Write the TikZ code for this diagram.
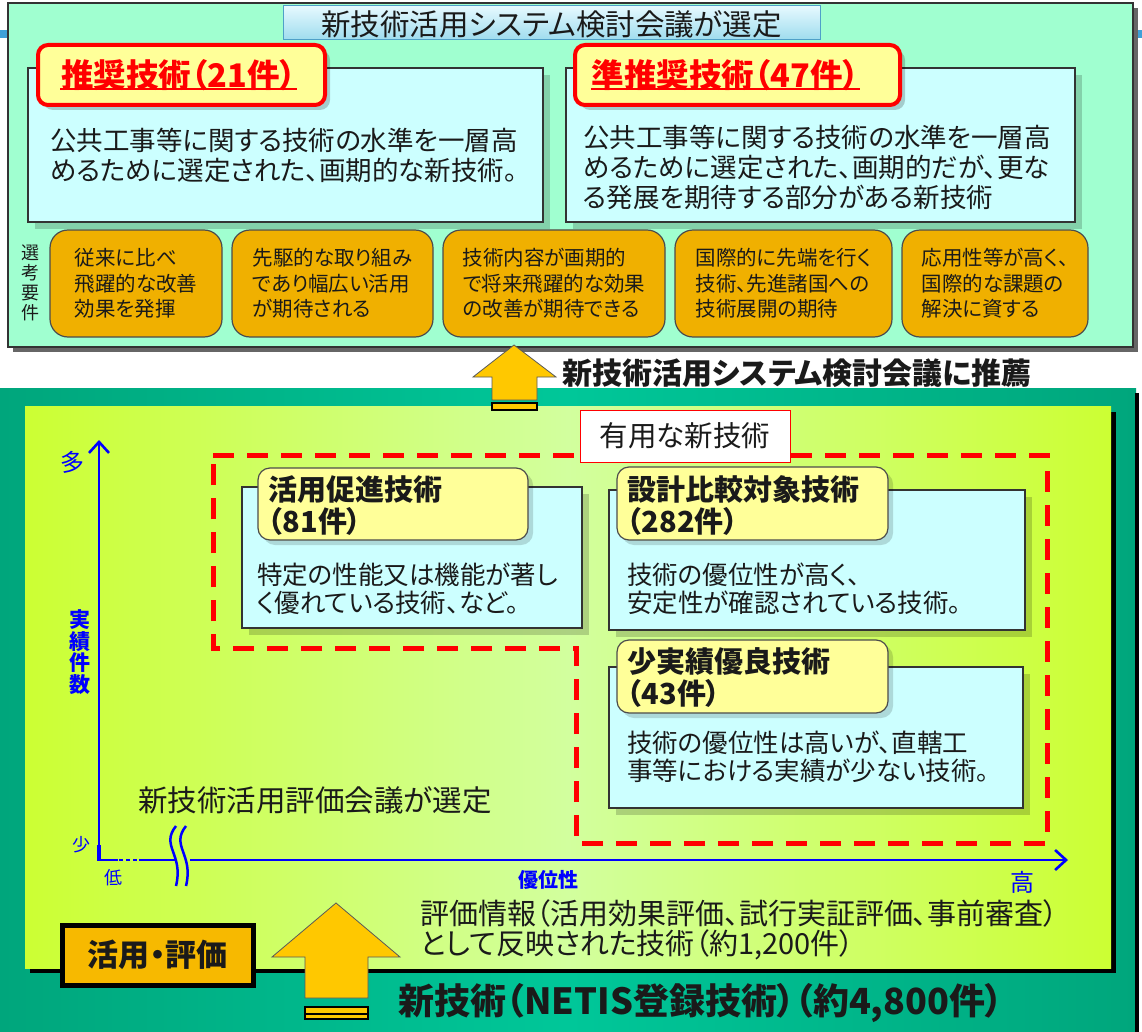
\documentclass[tikz,border=0pt]{standalone}
\usepackage{fontspec}
\setmainfont{Noto Sans CJK JP}[RawFeature=+palt]
\usetikzlibrary{shadows,arrows.meta}
\definecolor{mint}{HTML}{A0FFD0}
\definecolor{lcyan}{HTML}{CCFFFF}
\definecolor{lyellow}{HTML}{FFFF99}
\definecolor{orng}{HTML}{F0B000}
\definecolor{orngb}{HTML}{F7B900}
\definecolor{arrowfill}{HTML}{FFC800}
\definecolor{tealA}{HTML}{00A67C}
\definecolor{tealB}{HTML}{00C799}
\definecolor{ygreen}{HTML}{CCFF33}
\definecolor{pale}{HTML}{D2FF9E}
\definecolor{ttlA}{HTML}{E6F9FF}
\definecolor{ttlB}{HTML}{9EDCEE}
\definecolor{ttlborder}{HTML}{4FA0C8}
\definecolor{axblue}{HTML}{0000FF}
\definecolor{ink}{HTML}{1A1A1A}
\definecolor{slideblue}{HTML}{3FA0D8}
\newcommand\fsz[2]{\fontsize{#1}{#2}\selectfont}
\newcommand\rectnode[6]{\node[#6, inner sep=0pt, outer sep=0pt, minimum width={(#4-#2)*1pt}, minimum height={(#5-#3)*1pt}] (#1) at ({(#2+#4)/2},{(#3+#5)/2}) {};}
\tikzset{
  cyanbox/.style={fill=lcyan, draw=black!80, line width=1.2pt, drop shadow={shadow xshift=7pt, shadow yshift=-7pt, fill=black, opacity=0.18}},
  redlab/.style={fill=lyellow, draw=red, line width=4pt, rounded corners=10pt, drop shadow={shadow xshift=5pt, shadow yshift=-5pt, fill=black, opacity=0.2}},
  ylab/.style={fill=lyellow, draw=black!70, line width=1.2pt, rounded corners=12pt, drop shadow={shadow xshift=5pt, shadow yshift=-5pt, fill=black, opacity=0.15}},
  obox/.style={fill=orng, draw=black!70, line width=1.2pt, rounded corners=18pt},
  bodytxt/.style={font=\fsz{26.5}{30}, text=ink, align=left, inner sep=0pt},
  bodytxtb/.style={font=\fsz{25.5}{28.5}, text=ink, align=left, inner sep=0pt},
  otxt/.style={font=\fsz{20.5}{25.5}, text=ink, align=left, inner sep=0pt},
  labtxt/.style={font=\fsz{29}{32}\bfseries, text=ink, align=left, inner sep=0pt},
  redtxt/.style={font=\fsz{32.5}{36}\bfseries, text=red, inner sep=1pt},
  axisline/.style={draw=axblue, line width=2.6pt},
  axlab/.style={text=axblue, inner sep=0pt},
  arrowshape/.style={fill=arrowfill, draw=black!65, line width=0.8pt},
}
\begin{document}
\begin{tikzpicture}[x=1pt,y=-1pt]
\useasboundingbox (0,0) rectangle (1142,1032);
\fill[white] (0,0) rectangle (1142,1032);
% slide remnants
\fill[slideblue] (0,30) rectangle (7,38);
\fill[slideblue] (1136,30) rectangle (1142,38);
% ===== top panel =====
\rectnode{top}{8}{3}{1133}{347}{fill=mint, draw=black!80, line width=1.5pt, drop shadow={shadow xshift=5pt, shadow yshift=-5pt, fill=black!60, opacity=1}}
\rectnode{ttl}{283}{6}{820}{40}{draw=ttlborder, line width=1pt, top color=ttlA, bottom color=ttlB}
\node[font=\fsz{29.5}{31}, text=ink, inner sep=0pt] (ttltxt) at ([yshift=-1pt]ttl.center) {新技術活用システム検討会議が選定};
% description boxes
\rectnode{descA}{28}{68}{543}{222}{cyanbox}
\rectnode{descB}{566}{68}{1075}{222}{cyanbox}
\rectnode{labA}{38}{45}{325}{105}{redlab}
\rectnode{labB}{575}{45}{900}{105}{redlab}
\node[redtxt] (labAt) at ([xshift=-3pt]labA.center) {推奨技術（21件）};
\node[redtxt] (labBt) at ([xshift=-12pt]labB.center) {準推奨技術（47件）};
\draw[red, line width=2pt] ([yshift=3pt]labAt.south west) -- ([yshift=3pt]labAt.south east);
\draw[red, line width=2pt] ([yshift=3pt]labBt.south west) -- ([yshift=3pt]labBt.south east);
\node[bodytxt, anchor=west] (dA) at (50,155) {公共工事等に関する技術の水準を一層高\\めるために選定された、画期的な新技術。};
\node[bodytxt, anchor=west] (dB) at (583,167) {公共工事等に関する技術の水準を一層高\\めるために選定された、画期的だが、更な\\る発展を期待する部分がある新技術};
% selection requirements
\node[font=\fsz{18}{20}, text=ink, align=center, inner sep=0pt] (sk) at (30,283) {選\\考\\要\\件};
\rectnode{c1}{50}{230}{222}{337}{obox}
\rectnode{c2}{232}{230}{433}{337}{obox}
\rectnode{c3}{443}{230}{665}{337}{obox}
\rectnode{c4}{675}{230}{892}{337}{obox}
\rectnode{c5}{902}{230}{1088}{337}{obox}
\node[otxt] (c1t) at (c1) {従来に比べ\\飛躍的な改善\\効果を発揮};
\node[otxt] (c2t) at (c2) {先駆的な取り組み\\であり幅広い活用\\が期待される};
\node[otxt] (c3t) at (c3) {技術内容が画期的\\で将来飛躍的な効果\\の改善が期待できる};
\node[otxt] (c4t) at (c4) {国際的に先端を行く\\技術、先進諸国への\\技術展開の期待};
\node[otxt] (c5t) at (c5) {応用性等が高く、\\国際的な課題の\\解決に資する};
% ===== bottom panel =====
\shade[left color=tealA, right color=tealA, middle color=tealB] (0,388) rectangle (1136,1032);
\fill[black] (1135,393) rectangle (1139,1032);
\fill[black] (30,412) rectangle (1116,973);
\shade[left color=ygreen, right color=ygreen, middle color=pale] (25,406) rectangle (1111,968);
% dashed region
\draw[red, line width=5pt, dash pattern=on 21pt off 13pt] (213,455) -- (1047,455) -- (1047,843) -- (576,843) -- (576,648) -- (213,648) -- cycle;
\rectnode{useful}{580}{410}{790}{462}{fill=white, draw=red, line width=1pt}
\node[font=\fsz{28.5}{30}, text=ink, inner sep=0pt] (usefult) at (useful) {有用な新技術};
% bottom boxes
\rectnode{bA}{242}{487}{582}{628}{cyanbox}
\rectnode{bB}{609}{490}{1025}{630}{cyanbox}
\rectnode{bC}{609}{667}{1023}{808}{cyanbox}
\rectnode{labP}{258}{468}{528}{540}{ylab}
\rectnode{labQ}{617}{467}{888}{540}{ylab}
\rectnode{labR}{617}{640}{888}{713}{ylab}
\node[labtxt, anchor=west] (labPt) at (268,506) {活用促進技術\\（81件）};
\node[labtxt, anchor=west] (labQt) at (627,506) {設計比較対象技術\\（282件）};
\node[labtxt, anchor=west] (labRt) at (627,678) {少実績優良技術\\（43件）};
\node[bodytxtb, anchor=west] (bAt) at (257,589) {特定の性能又は機能が著し\\く優れている技術、など。};
\node[bodytxtb, anchor=west] (bBt) at (627,589) {技術の優位性が高く、\\安定性が確認されている技術。};
\node[bodytxtb, anchor=west] (bCt) at (627,757) {技術の優位性は高いが、直轄工\\事等における実績が少ない技術。};
% axes
\coordinate (orig) at (99,860);
\coordinate (ytop) at (99,440);
\coordinate (xend) at (1068,860);
\draw[axisline, -{Straight Barb[length=11pt,width=20pt]}] (orig) -- (ytop);
\draw[axisline, line width=4pt] (99,845) -- (99,861);
\draw[axisline] (97.7,860) -- (118,860);
\draw[axisline, dash pattern=on 4pt off 3pt] (119,860) -- (138,860);
\draw[axisline] (139,860) -- (175,860);
\draw[axisline, line width=2.5pt] (176,826) .. controls (160,846) and (184,854) .. (176,886);
\draw[axisline, line width=2.5pt] (186,826) .. controls (170,846) and (194,854) .. (186,886);
\draw[axisline, -{Straight Barb[length=11pt,width=20pt]}] (190,860) -- (xend);
\node[axlab, font=\fsz{24}{24}] (many) at (72,462) {多};
\node[axlab, font=\fsz{21}{21.5}\bfseries, align=center] (jis) at (80,652) {実\\績\\件\\数};
\node[axlab, font=\fsz{18}{18}] (few) at (81,845) {少};
\node[axlab, font=\fsz{18}{18}] (low) at (113,878) {低};
\node[axlab, font=\fsz{20}{20}\bfseries] (yui) at (548,880) {優位性};
\node[axlab, font=\fsz{24}{24}] (high) at (1022,882) {高};
% texts
\node[font=\fsz{29.5}{30}, text=ink, anchor=west, inner sep=0pt] (hyoka) at (138,800) {新技術活用評価会議が選定};
\node[font=\fsz{29}{30}, text=ink, anchor=west, align=left, inner sep=0pt] (info) at (420,930) {評価情報（活用効果評価、試行実証評価、事前審査）\\として反映された技術（約1,200件）};
\node[font=\fsz{36}{38}\bfseries, text=ink, anchor=west, inner sep=0pt] (netis) at (398,1003) {新技術（NETIS登録技術）（約4,800件）};
\rectnode{kh}{62}{925}{253}{985}{fill=orngb, draw=black, line width=5pt}
\node[font=\fsz{31}{34}\bfseries, text=ink, inner sep=0pt] (kht) at (kh) {活用・評価};
% arrows
\filldraw[arrowshape] (514,345) -- (556,377) -- (537,377) -- (537,400) -- (492,400) -- (492,377) -- (473,377) -- cycle;
\filldraw[fill=arrowfill, draw=black, line width=1.2pt] (492,403) rectangle (537,410);
\node[font=\fsz{30}{32}\bfseries, text=ink, anchor=west, inner sep=0pt] (rec) at (562,373) {新技術活用システム検討会議に推薦};
\filldraw[arrowshape] (336,903) -- (400,957) -- (368,957) -- (368,998) -- (305,998) -- (305,957) -- (272,957) -- cycle;
\filldraw[fill=arrowfill, draw=black, line width=1.2pt] (305,1007) rectangle (368,1019);
\draw[black, line width=1.2pt] (305,1014) -- (368,1014);
\end{tikzpicture}
\end{document}
